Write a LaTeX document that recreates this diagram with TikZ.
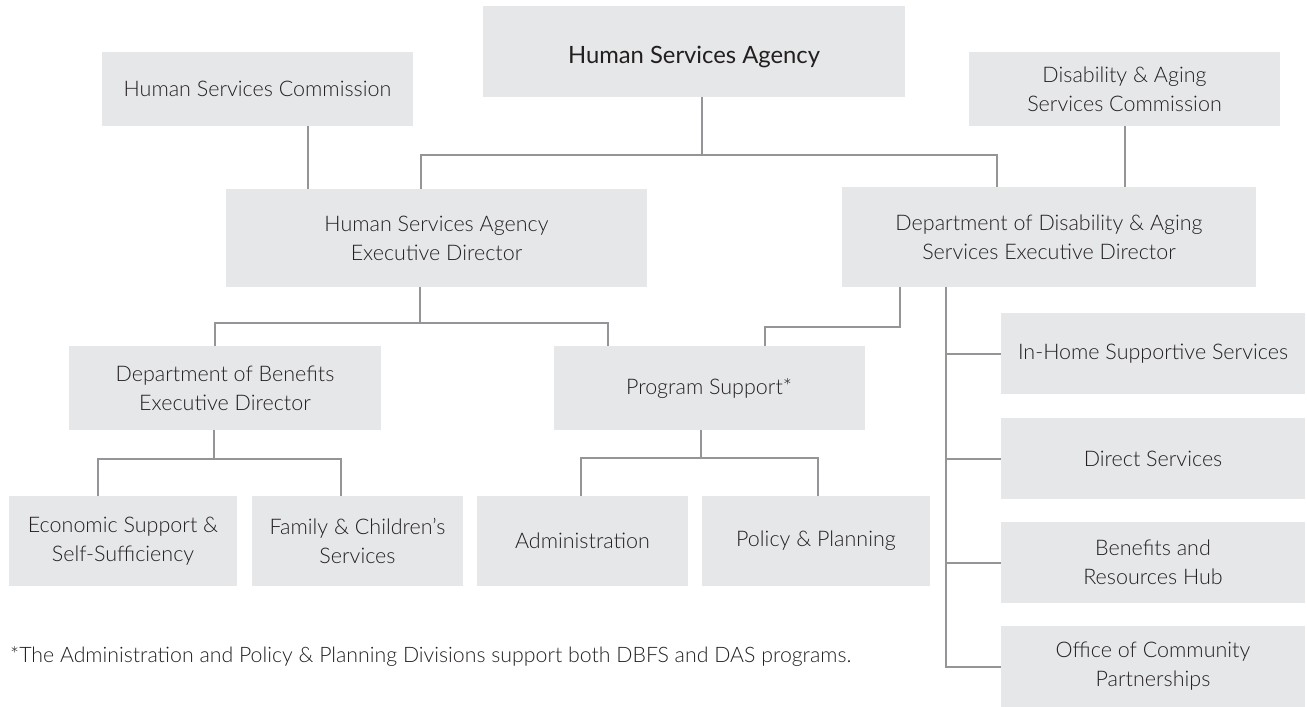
\documentclass[tikz,border=0pt]{standalone}
\usepackage{fontspec}
\setmainfont{Lato Light}
\newfontfamily\titlefont{Lato}
\definecolor{boxfill}{HTML}{E6E7E8}
\definecolor{linecol}{HTML}{939598}
\definecolor{txt}{HTML}{231F20}
\begin{document}
\begin{tikzpicture}[x=1pt,y=-1pt,
  box/.style={fill=boxfill, draw=none, inner sep=0pt, align=center, text=txt,
    font=\fontsize{21.5}{29}\selectfont},
  conn/.style={draw=linecol, line width=2pt}]
\useasboundingbox (0,0) rectangle (1307,707);
% boxes
\node[box, minimum width=422pt, minimum height=91pt, font=\titlefont\fontsize{23.8}{29}\selectfont] (hsa) at (694,51.5) {\smash{\raisebox{-12pt}{Human Services Agency}}};
\node[box, minimum width=311pt, minimum height=74pt] (hsc) at (257.5,89) {Human Services Commission};
\node[box, minimum width=311pt, minimum height=74pt] (dasc) at (1124.5,89) {Disability \& Aging\\Services Commission};
\node[box, minimum width=421pt, minimum height=98pt] (hsaed) at (436.5,238) {Human Services Agency\\Executive Director};
\node[box, minimum width=414pt, minimum height=100pt] (ddas) at (1049,237) {Department of Disability \& Aging\\Services Executive Director};
\node[box, minimum width=312pt, minimum height=84pt] (dbed) at (225,388) {Department of Benefits\\Executive Director};
\node[box, minimum width=311pt, minimum height=84pt] (ps) at (709,388) {Program Support*};
\node[box, minimum width=228pt, minimum height=90pt] (ess) at (123,541) {Economic Support \&\\Self-Sufficiency};
\node[box, minimum width=211pt, minimum height=90pt] (fcs) at (357.5,541) {Family \& Children’s\\Services};
\node[box, minimum width=211pt, minimum height=90pt] (adm) at (582.5,541) {Administration};
\node[box, minimum width=228pt, minimum height=90pt] (pp) at (816,541) {Policy \& Planning};
\node[box, minimum width=304pt, minimum height=81pt] (ihss) at (1153,353.5) {In-Home Supportive Services};
\node[box, minimum width=304pt, minimum height=81pt] (ds) at (1153,458.5) {Direct Services};
\node[box, minimum width=304pt, minimum height=81pt] (brh) at (1153,562.5) {Benefits and\\Resources Hub};
\node[box, minimum width=304pt, minimum height=81pt] (ocp) at (1153,666.5) {Office of Community\\Partnerships};
\node[anchor=west, inner sep=0pt, text=txt, font=\fontsize{21.3}{26}\selectfont] (note) at (10,657) {*The Administration and Policy \& Planning Divisions support both DBFS and DAS programs.};
% connectors
\coordinate (t1) at (702,155);
\draw[conn] (hsa.south -| t1) -- (t1);
\draw[conn] ([xshift=-15.5pt]hsaed.north) |- (t1) -| ([xshift=-52pt]ddas.north);
\draw[conn] ([xshift=50.5pt]hsc.south) -- ([xshift=50.5pt]hsc.south |- hsaed.north);
\draw[conn] (dasc.south) -- (dasc.south |- ddas.north);
\coordinate (t2) at (420,323);
\draw[conn] (hsaed.south -| t2) -- (t2);
\draw[conn] ([xshift=-10pt]dbed.north) |- (t2) -| ([xshift=-101pt]ps.north);
\coordinate (t3) at (899.5,327);
\draw[conn] (ddas.south -| t3) -- (t3) -| ([xshift=56pt]ps.north);
\coordinate (sp) at (946,0);
\draw[conn] (ddas.south -| sp) |- (ocp.west);
\draw[conn] (ihss.west -| sp) -- (ihss.west);
\draw[conn] (ds.west -| sp) -- (ds.west);
\draw[conn] (brh.west -| sp) -- (brh.west);
\coordinate (t4) at (214,459);
\draw[conn] (dbed.south -| t4) -- (t4);
\draw[conn] ([xshift=-25pt]ess.north) |- (t4) -| ([xshift=-16.5pt]fcs.north);
\coordinate (t5) at (701,458);
\draw[conn] (ps.south -| t5) -- (t5);
\draw[conn] ([xshift=-1.5pt]adm.north) |- (t5) -| ([xshift=2pt]pp.north);
\end{tikzpicture}
\end{document}
